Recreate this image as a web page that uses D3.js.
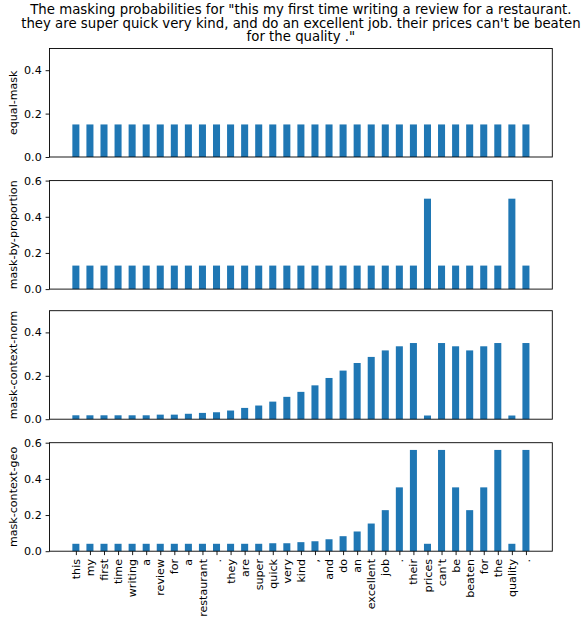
<!DOCTYPE html>
<html>
<head>
<meta charset="utf-8">
<script src="https://cdn.jsdelivr.net/npm/d3@7"></script>
<style>
  html, body { margin: 0; padding: 0; background: #fff; }
  svg { display: block; font-family: "DejaVu Sans", sans-serif; }
</style>
</head>
<body>
<svg id="chart" width="587" height="619"></svg>
<script>
// Tokens of the sentence, one bar per token
const tokens = ["this", "my", "first", "time", "writing", "a", "review", "for", "a",
  "restaurant", ".", "they", "are", "super", "quick", "very", "kind", ",", "and",
  "do", "an", "excellent", "job", ".", "their", "prices", "can't", "be", "beaten",
  "for", "the", "quality", "."];

// Masking probability per token for each strategy
const equalMask = [0.15, 0.15, 0.15, 0.15, 0.15, 0.15, 0.15, 0.15, 0.15, 0.15, 0.15,
  0.15, 0.15, 0.15, 0.15, 0.15, 0.15, 0.15, 0.15, 0.15, 0.15, 0.15, 0.15, 0.15, 0.15,
  0.15, 0.15, 0.15, 0.15, 0.15, 0.15, 0.15, 0.15];

const maskByProportion = [0.13, 0.13, 0.13, 0.13, 0.13, 0.13, 0.13, 0.13, 0.13, 0.13,
  0.13, 0.13, 0.13, 0.13, 0.13, 0.13, 0.13, 0.13, 0.13, 0.13, 0.13, 0.13, 0.13, 0.13,
  0.13, 0.5, 0.13, 0.13, 0.13, 0.13, 0.13, 0.5, 0.13];

const maskContextNorm = [0.018, 0.018, 0.018, 0.018, 0.018, 0.018, 0.021, 0.021, 0.025,
  0.029, 0.032, 0.040, 0.052, 0.063, 0.081, 0.103, 0.126, 0.156, 0.190, 0.224, 0.259,
  0.287, 0.317, 0.336, 0.351, 0.017, 0.351, 0.336, 0.317, 0.336, 0.351, 0.017, 0.351];

const maskContextGeo = [0.041, 0.041, 0.041, 0.041, 0.041, 0.041, 0.041, 0.041, 0.041,
  0.041, 0.041, 0.041, 0.041, 0.041, 0.044, 0.044, 0.050, 0.055, 0.066, 0.083, 0.109,
  0.153, 0.227, 0.353, 0.560, 0.041, 0.560, 0.353, 0.227, 0.353, 0.560, 0.041, 0.560];

const panelNames = ["equal-mask", "mask-by-proportion", "mask-context-norm", "mask-context-geo"];
const panelMax = [0.5, 0.6, 0.5, 0.6];
const yTicks = [[0, 0.2, 0.4], [0, 0.2, 0.4, 0.6], [0, 0.2, 0.4], [0, 0.2, 0.4, 0.6]];

const titleLines = [
  "The masking probabilities for \"this my first time writing a review for a restaurant.",
  "they are super quick very kind, and do an excellent job. their prices can't be beaten",
  "for the quality .\""
];

const series = [equalMask, maskByProportion, maskContextNorm, maskContextGeo];

const svg = d3.select("#chart");
const left = 49.5, right = 552.3;
const panelTops = [48.5, 180.6, 310.7, 442.7];
const panelH = 108.5;
const barW = 0.5;
const color = "#1f77b4";
const labelSize = 11.1;
const tickLen = 3.9;
const lineW = 0.9;

const n = tokens.length;
const span = n - 1 + barW;
const x = d3.scaleLinear()
  .domain([-barW / 2 - 0.05 * span, n - 1 + barW / 2 + 0.05 * span])
  .range([left, right]);

const cx = (left + right) / 2;
const title = svg.append("text")
  .attr("text-anchor", "middle")
  .attr("font-size", 13.3)
  .attr("fill", "#000");
titleLines.forEach((line, i) => {
  title.append("tspan").attr("x", cx).attr("y", 13.6 + i * 13.9).text(line);
});

series.forEach((vals, p) => {
  const top = panelTops[p];
  const y = d3.scaleLinear().domain([0, panelMax[p]]).range([top + panelH, top]);
  const g = svg.append("g");

  g.selectAll("rect.bar")
    .data(vals)
    .join("rect")
    .attr("class", "bar")
    .attr("x", (d, i) => x(i - barW / 2))
    .attr("width", (d, i) => x(i + barW / 2) - x(i - barW / 2))
    .attr("y", d => y(d))
    .attr("height", d => y(0) - y(d))
    .attr("fill", color);

  // y axis
  const yAxis = d3.axisLeft(y)
    .tickValues(yTicks[p])
    .tickFormat(d3.format(".1f"))
    .tickSize(tickLen)
    .tickPadding(3.9);
  const ya = g.append("g").attr("transform", `translate(${left},0)`).call(yAxis);
  ya.select(".domain").remove();
  ya.selectAll(".tick line").attr("stroke", "#000").attr("stroke-width", lineW);
  ya.selectAll(".tick text").attr("font-size", labelSize).attr("font-family", "DejaVu Sans, sans-serif").attr("fill", "#000");

  // bottom axis: tick labels only on the last panel
  if (p === series.length - 1) {
    const xAxis = d3.axisBottom(x)
      .tickValues(d3.range(n))
      .tickFormat(i => tokens[i])
      .tickSize(tickLen);
    const xa = g.append("g").attr("transform", `translate(0,${top + panelH})`).call(xAxis);
    xa.select(".domain").remove();
    xa.selectAll(".tick line").attr("stroke", "#000").attr("stroke-width", lineW);
    xa.selectAll(".tick text")
      .attr("font-size", labelSize)
      .attr("font-family", "DejaVu Sans, sans-serif")
      .attr("fill", "#000")
      .attr("transform", "rotate(-90)")
      .attr("text-anchor", "end")
      .attr("dy", "0.32em")
      .attr("x", -7.8)
      .attr("y", 0);
  }

  // frame
  g.append("rect")
    .attr("x", left)
    .attr("y", top)
    .attr("width", right - left)
    .attr("height", panelH)
    .attr("fill", "none")
    .attr("stroke", "#000")
    .attr("stroke-width", lineW);

  // y label
  g.append("text")
    .attr("transform", `translate(17,${top + panelH / 2}) rotate(-90)`)
    .attr("text-anchor", "middle")
    .attr("font-size", labelSize)
    .attr("fill", "#000")
    .text(panelNames[p]);
});
</script>
</body>
</html>
